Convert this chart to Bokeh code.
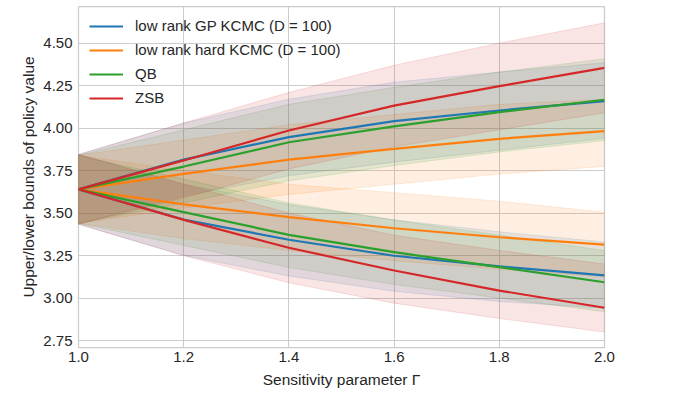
from bokeh.plotting import figure
from bokeh.models import Range1d, FixedTicker, PrintfTickFormatter, Legend, LegendItem
from bokeh.embed import file_html
from bokeh.resources import INLINE

# ---- data ----
gamma = [1.0, 1.2, 1.4, 1.6, 1.8, 2.0]

labels = ["low rank GP KCMC (D = 100)", "low rank hard KCMC (D = 100)", "QB", "ZSB"]
colors = ["#1f77b4", "#ff7f0e", "#2ca02c", "#d62728"]

# upper bounds (line, band low, band high)
gp_up = [3.64, 3.815, 3.947, 4.041, 4.104, 4.159]
gp_up_lo = [3.435, 3.60, 3.72, 3.80, 3.87, 3.94]
gp_up_hi = [3.845, 4.03, 4.17, 4.27, 4.33, 4.385]

hard_up = [3.64, 3.731, 3.815, 3.878, 3.937, 3.982]
hard_up_lo = [3.44, 3.53, 3.61, 3.67, 3.73, 3.775]
hard_up_hi = [3.84, 3.93, 4.02, 4.08, 4.14, 4.17]

qb_up = [3.64, 3.774, 3.917, 4.010, 4.094, 4.167]
qb_up_lo = [3.44, 3.56, 3.69, 3.78, 3.86, 3.927]
qb_up_hi = [3.84, 3.99, 4.14, 4.24, 4.33, 4.408]

zsb_up = [3.64, 3.81, 3.986, 4.133, 4.247, 4.355]
zsb_up_lo = [3.435, 3.59, 3.76, 3.89, 3.99, 4.09]
zsb_up_hi = [3.845, 4.03, 4.21, 4.37, 4.50, 4.62]

# lower bounds (line, band low, band high)
gp_lo = [3.64, 3.462, 3.343, 3.249, 3.186, 3.133]
gp_lo_lo = [3.435, 3.25, 3.13, 3.04, 2.98, 2.94]
gp_lo_hi = [3.845, 3.67, 3.55, 3.46, 3.39, 3.33]

hard_lo = [3.64, 3.551, 3.476, 3.411, 3.358, 3.315]
hard_lo_lo = [3.44, 3.35, 3.28, 3.22, 3.17, 3.125]
hard_lo_hi = [3.84, 3.75, 3.67, 3.62, 3.57, 3.505]

qb_lo = [3.64, 3.506, 3.372, 3.270, 3.182, 3.093]
qb_lo_lo = [3.44, 3.31, 3.18, 3.08, 3.00, 2.92]
qb_lo_hi = [3.84, 3.70, 3.56, 3.46, 3.37, 3.28]

zsb_lo = [3.64, 3.46, 3.296, 3.162, 3.044, 2.943]
zsb_lo_lo = [3.435, 3.25, 3.09, 2.97, 2.88, 2.80]
zsb_lo_hi = [3.845, 3.67, 3.50, 3.37, 3.28, 3.20]

x_ticks = [1.0, 1.2, 1.4, 1.6, 1.8, 2.0]
y_ticks = [2.75, 3.00, 3.25, 3.50, 3.75, 4.00, 4.25, 4.50]

series = [
    (gp_up, gp_up_lo, gp_up_hi, gp_lo, gp_lo_lo, gp_lo_hi),
    (hard_up, hard_up_lo, hard_up_hi, hard_lo, hard_lo_lo, hard_lo_hi),
    (qb_up, qb_up_lo, qb_up_hi, qb_lo, qb_lo_lo, qb_lo_hi),
    (zsb_up, zsb_up_lo, zsb_up_hi, zsb_lo, zsb_lo_lo, zsb_lo_hi),
]

FONT = "Liberation Sans"
TXT = "#262626"
GRID = "#cccccc"

p = figure(width=665, height=397, output_backend="svg", toolbar_location=None,
           x_range=Range1d(1.0, 2.0), y_range=Range1d(2.709, 4.716),
           min_border_left=78, min_border_right=61, min_border_top=6,
           min_border_bottom=50)

p.background_fill_color = "white"
p.border_fill_color = "white"
p.outline_line_color = GRID
p.outline_line_width = 1.25
p.outline_line_alpha = 1.0

# bands first
for (up, up_lo, up_hi, lo, lo_lo, lo_hi), c in zip(series, colors):
    for blo, bhi in ((up_lo, up_hi), (lo_lo, lo_hi)):
        p.patch(x=gamma + gamma[::-1], y=blo + bhi[::-1],
                fill_color=c, fill_alpha=0.12,
                line_color=c, line_alpha=0.14, line_width=1)

items = []
for (up, up_lo, up_hi, lo, lo_lo, lo_hi), c, lab in zip(series, colors, labels):
    r1 = p.line(gamma, up, line_color=c, line_width=2.2)
    p.line(gamma, lo, line_color=c, line_width=2.2)
    dummy = p.patch(x=[], y=[], fill_color=c, fill_alpha=0.3,
                    line_color=c, line_alpha=0.35, line_width=1)
    items.append(LegendItem(label=lab, renderers=[dummy, r1]))

legend = Legend(items=items, location="top_left",
                background_fill_alpha=0, border_line_color=None,
                label_text_font=FONT, label_text_font_size="15px",
                label_text_color=TXT,
                glyph_width=34, glyph_height=12, label_height=12,
                spacing=7, padding=9, margin=11, label_standoff=12)
p.add_layout(legend)

p.xaxis.ticker = FixedTicker(ticks=x_ticks)
p.yaxis.ticker = FixedTicker(ticks=y_ticks)
p.xaxis.formatter = PrintfTickFormatter(format="%.1f")
p.yaxis.formatter = PrintfTickFormatter(format="%.2f")

p.xgrid.grid_line_color = GRID
p.ygrid.grid_line_color = GRID
p.xgrid.grid_line_width = 1
p.ygrid.grid_line_width = 1

for ax in (p.xaxis[0], p.yaxis[0]):
    ax.axis_line_color = None
    ax.major_tick_line_color = None
    ax.minor_tick_line_color = None
    ax.major_label_text_font = FONT
    ax.major_label_text_font_size = "15px"
    ax.major_label_text_color = TXT
    ax.axis_label_text_font = FONT
    ax.axis_label_text_font_size = "15.5px"
    ax.axis_label_text_font_style = "normal"
    ax.axis_label_text_color = TXT

p.xaxis.axis_label = "Sensitivity parameter Γ"
p.yaxis.axis_label = "Upper/lower bounds of policy value"
p.xaxis.major_label_standoff = -2
p.yaxis.major_label_standoff = 0
p.xaxis.axis_label_standoff = 6
p.yaxis.axis_label_standoff = 3

open("out.html", "w").write(file_html(p, INLINE))
